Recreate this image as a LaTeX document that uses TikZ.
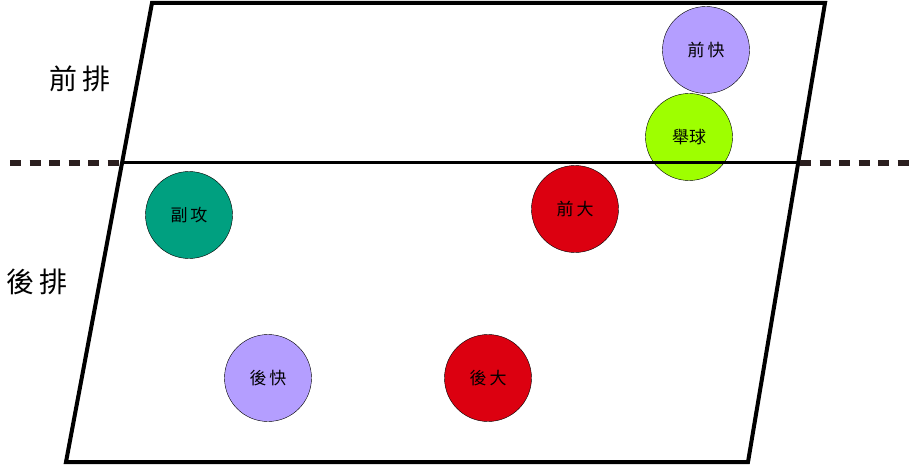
\documentclass[tikz,border=0pt]{standalone}
\usepackage{fontspec}
\newfontfamily\cjk{Noto Sans CJK TC}
\usetikzlibrary{positioning}
\definecolor{posLav}{RGB}{180,158,255}
\definecolor{posLime}{RGB}{158,255,0}
\definecolor{posTeal}{RGB}{0,160,128}
\definecolor{posRed}{RGB}{220,0,16}
\definecolor{netDash}{RGB}{43,31,31}

\begin{document}
\begin{tikzpicture}[
    x=1pt, y=-1pt,
    player/.style={circle, draw=black, thin, minimum size=87pt, inner sep=0pt, font=\cjk\fontsize{17}{19}\selectfont},
    rowlabel/.style={font=\cjk\fontsize{28}{32}\selectfont, inner sep=0pt},
    court/.style={line width=4pt, line join=miter},
    netline/.style={line width=6pt, netDash, dash pattern=on 11pt off 8.5pt}
]
\useasboundingbox (0,0) rectangle (909,465);

% Corners of the court
\coordinate (tl) at (152,3);
\coordinate (tr) at (825,3);
\coordinate (br) at (748,462);
\coordinate (bl) at (66,462);
\coordinate (ml) at (122,163);
\coordinate (mr) at (797,163);
\coordinate (dl) at (10,163);
\coordinate (dr) at (909,163);

% Players
\node[player, fill=posLav] (qk) at (706,50) {前\hspace{3pt}快};
\node[player, fill=posLime] (js) at (689,137) {舉球};
\node[player, fill=posTeal] (fg) at (189,215) {副\hspace{3pt}攻};
\node[player, fill=posRed] (qd) at (575,209) {前\hspace{3pt}大};
\node[player, fill=posLav] (hk) at (268,378) {後\hspace{3pt}快};
\node[player, fill=posRed] (hd) at (488,378) {後\hspace{3pt}大};

% Court outline and row line
\draw[court] (tl) -- (tr) -- (br) -- (bl) -- cycle;
\draw[line width=3pt] (ml) -- (mr);

% Net extensions (dashed)
\draw[netline] (dl) -- (ml);
\draw[netline] (mr) ++(3,0) coordinate (mr2) -- (dr);

% Row labels
\node[rowlabel] (front) at (80,79) {前\hspace{6pt}排};
\node[rowlabel] (back) at (37,282) {後\hspace{6pt}排};

\end{tikzpicture}
\end{document}
